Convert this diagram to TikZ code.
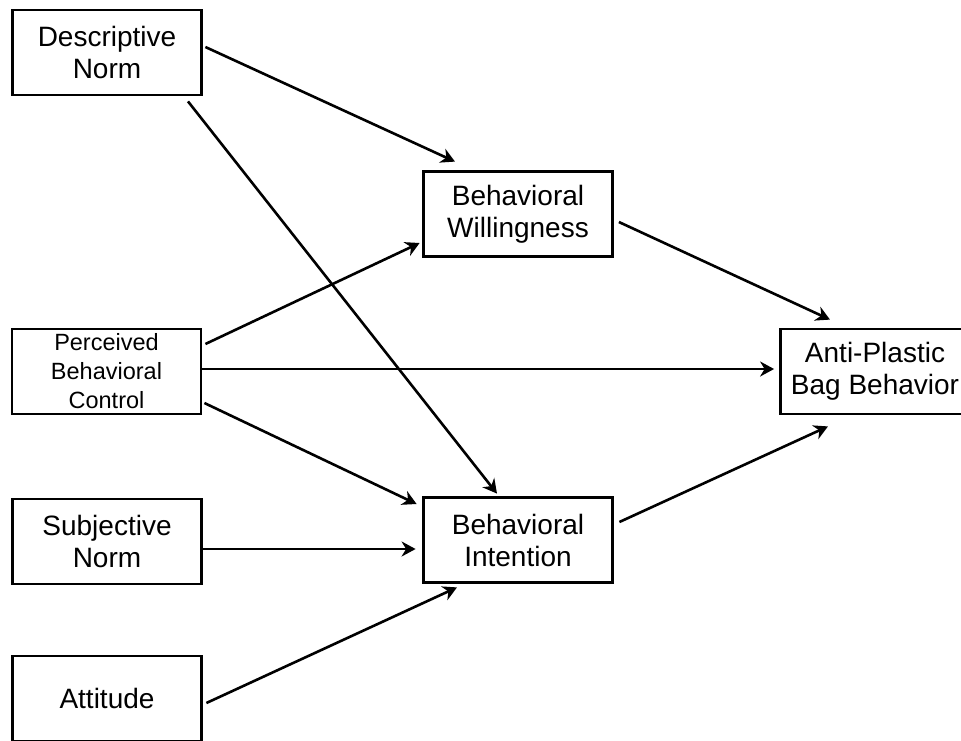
\documentclass[tikz,border=0pt]{standalone}
\usepackage{fontspec}
\setmainfont{Liberation Sans}
\usetikzlibrary{arrows.meta}
\begin{document}
\begin{tikzpicture}[x=1pt,y=-1pt,
  box/.style={draw,line width=2.8pt,minimum width=189pt,minimum height=85pt,inner sep=0pt,align=center,font=\fontsize{28}{32}\selectfont},
  smallbox/.style={box,font=\fontsize{23.5}{29}\selectfont},
  arr/.style={line width=2.6pt,-{Stealth[length=14pt,width=15pt,inset=4.5pt]}}]
\useasboundingbox (0,0) rectangle (961,740);
\clip (0,0) rectangle (961,740);
\node[box] (dn) at (107,52.5) {Descriptive\\Norm};
\node[smallbox] (pbc) at (106.5,371.5) {Perceived\\Behavioral\\Control};
\node[box] (sn) at (107,541.5) {Subjective\\Norm};
\node[box] (att) at (107,698.5) {Attitude};
\node[box] (bw) at (518,214) {Behavioral\\Willingness};
\node[box] (bi) at (518,540) {Behavioral\\Intention};
\node[box] (apb) at (875,371.5) {Anti-Plastic\\Bag Behavior};
\draw[arr] ([xshift=2.5pt,yshift=5.5pt]dn.east) -- ([xshift=-63pt,yshift=8.5pt]bw.north);
\draw[arr] ([xshift=81pt,yshift=-5pt]dn.south) -- ([xshift=-21pt,yshift=2.5pt]bi.north);
\draw[arr] ([xshift=3pt,yshift=27.5pt]pbc.east) -- ([xshift=-2.5pt,yshift=-29pt]bw.west);
\draw[arr] ([yshift=2.5pt]pbc.east) -- ([xshift=-5pt,yshift=2.5pt]apb.west);
\draw[arr] ([xshift=2pt,yshift=-31.5pt]pbc.east) -- ([xshift=-5.5pt,yshift=36pt]bi.west);
\draw[arr] ([yshift=-7.5pt]sn.east) -- ([xshift=-6.5pt,yshift=-9pt]bi.west);
\draw[arr] ([xshift=3.5pt,yshift=-4.5pt]att.east) -- ([xshift=-61pt,yshift=-3.5pt]bi.south);
\draw[arr] ([xshift=5pt,yshift=-8pt]bw.east) -- ([xshift=-45pt,yshift=8pt]apb.north);
\draw[arr] ([xshift=5.5pt,yshift=18pt]bi.east) -- ([xshift=-47pt,yshift=-11pt]apb.south);
\end{tikzpicture}
\end{document}
